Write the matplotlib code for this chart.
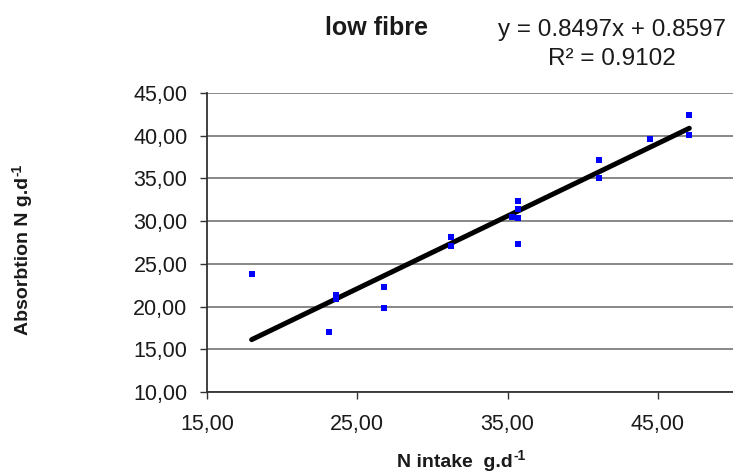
import matplotlib
matplotlib.use("Agg")
import matplotlib.pyplot as plt
import matplotlib.ticker as mticker
import numpy as np

# N intake (g/d) vs absorption (g/d), low fibre diet
n_intake = [17.97, 23.56, 23.56, 23.12, 26.76, 26.76, 31.21, 31.21, 35.27,
            35.67, 35.67, 35.67, 35.67, 41.10, 41.10, 44.45, 47.09, 47.09]
absorption = [23.80, 21.35, 20.85, 17.05, 22.28, 19.79, 28.10, 27.08, 30.52,
              32.35, 31.38, 30.36, 27.32, 37.12, 35.08, 39.60, 42.39, 40.12]

slope, intercept = 0.8497, 0.8597
r2 = 0.9102

x_ticks = [15, 25, 35, 45]
y_ticks = [10, 15, 20, 25, 30, 35, 40, 45]

plt.rcParams.update({"font.family": "Liberation Sans"})

W, H = 733, 475
fig = plt.figure(figsize=(W / 100, H / 100), dpi=100)
ax = fig.add_axes([207 / W, 1 - 392 / H, (W - 207) / W, (392 - 93) / H])

ax.set_xlim(15, 15 + (W - 207) / 15.03)
ax.set_ylim(10, 45)
ax.set_xticks(x_ticks)
ax.set_yticks(y_ticks)
fmt = mticker.FuncFormatter(lambda v, p: f"{v:.2f}".replace(".", ","))
ax.xaxis.set_major_formatter(fmt)
ax.yaxis.set_major_formatter(fmt)

ax.grid(axis="y", color="#888888", linewidth=1.4, zorder=0)
ax.grid(axis="x", visible=False)
for side in ("top", "right"):
    ax.spines[side].set_visible(False)
for side in ("left", "bottom"):
    ax.spines[side].set_linewidth(1.3)
    ax.spines[side].set_color("#333333")
ax.tick_params(axis="both", direction="out", length=5, width=1.0,
               color="#333333", labelsize=15.5, labelcolor="#1a1a1a")
ax.tick_params(axis="y", pad=9)
ax.tick_params(axis="x", pad=11)

xs = np.array([min(n_intake), max(n_intake)])
ax.plot(xs, slope * xs + intercept, color="black", linewidth=3.6,
        solid_capstyle="round", zorder=3)
ax.plot(n_intake, absorption, linestyle="none", marker="s", markersize=4.7,
        color="#0000ff", markeredgewidth=0, zorder=4, clip_on=False)

fig.text(325 / W, 1 - 35 / H, "low fibre", fontsize=18, fontweight="bold",
         ha="left", va="baseline", color="#1a1a1a")
fig.text(612 / W, 1 - 36 / H, f"y = {slope}x + {intercept}", fontsize=17.5,
         ha="center", va="baseline", color="#1a1a1a")
fig.text(612 / W, 1 - 65 / H, f"R\u00b2 = {r2}", fontsize=17.5,
         ha="center", va="baseline", color="#1a1a1a")

# axis titles with a small "-1" superscript placed after the main text
renderer = fig.canvas.get_renderer()
lab_kw = dict(fontsize=14, fontweight="bold", color="#1a1a1a")
sup_kw = dict(fontsize=10, fontweight="bold", color="#1a1a1a")

xl = fig.text(397 / W, 1 - 467 / H, "N intake  g.d", ha="left",
              va="baseline", **lab_kw)
bb = xl.get_window_extent(renderer)
fig.text((bb.x1 + 1) / W, (H - 467 + 7) / H, "-1", ha="left", va="baseline",
         **sup_kw)

yl = fig.text(24 / W, 1 - 335 / H, "Absorbtion N g.d", rotation=90,
              ha="center", va="bottom", rotation_mode="default", **lab_kw)
bb = yl.get_window_extent(renderer)
fig.text((24 - 7) / W, (bb.y1 + 1) / H, "-1", rotation=90, ha="center",
         va="bottom", **sup_kw)

fig.savefig("out.png", dpi=100)
